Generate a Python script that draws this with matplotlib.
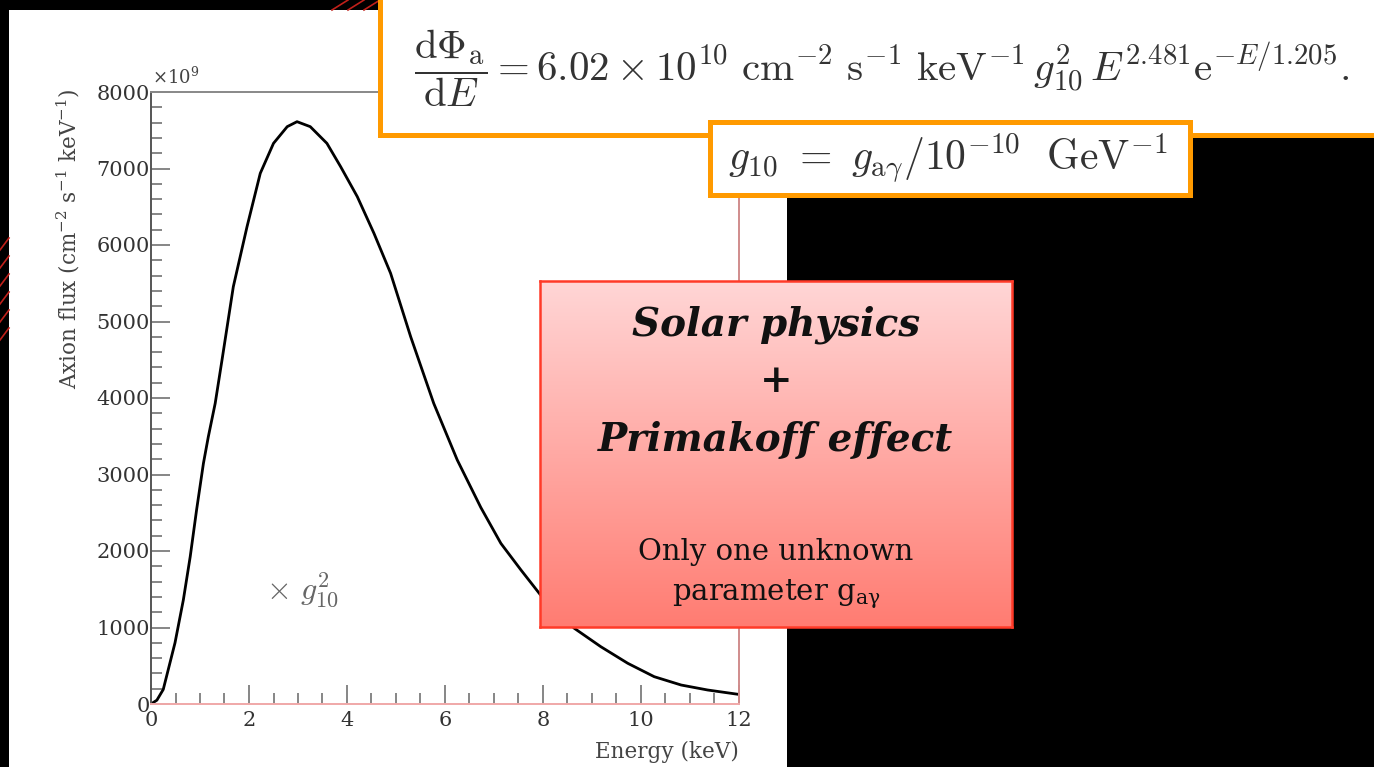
"""Solar axion flux spectrum slide: flux vs energy with formula boxes."""
import numpy as np
import matplotlib
matplotlib.use("Agg")
import matplotlib.pyplot as plt
from matplotlib.patches import Rectangle
from matplotlib.lines import Line2D

# values (x1e9 cm^-2 s^-1 keV^-1)
energy = [0, 0.12, 0.25, 0.49, 0.66, 0.80, 0.93, 1.07, 1.17, 1.31, 1.45, 1.68, 1.96,
          2.23, 2.50, 2.78, 2.98, 3.25, 3.59, 3.87, 4.21, 4.55, 4.89, 5.30, 5.77,
          6.25, 6.73, 7.14, 7.55, 7.95, 8.64, 9.18, 9.73, 10.27, 10.82, 11.36, 12.0]
flux = [0, 50, 190, 800, 1360, 1925, 2536, 3146, 3494, 3930, 4500, 5455, 6240,
        6937, 7329, 7547, 7612, 7547, 7329, 7024, 6632, 6153, 5630, 4800, 3930,
        3190, 2570, 2100, 1752, 1425, 989, 749, 532, 357, 248, 183, 125]

x_major = list(range(0, 13, 2))
y_major = list(range(0, 8001, 1000))

W, H = 1374, 767
ORANGE = "#FF9A00"
SERIF = "DejaVu Serif"


def fx(px):
    return px / W


def fy(py):
    return 1 - py / H


fig = plt.figure(figsize=(W / 100, H / 100), dpi=100, facecolor="black")

# white slide panel behind the plot
fig.patches.append(Rectangle((fx(9), 0), fx(787 - 9), fy(10), transform=fig.transFigure,
                             facecolor="white", edgecolor="none", zorder=-1))
# red decorative stripes on the dark border
for i in range(6):
    fig.add_artist(Line2D([fx(0), fx(9)], [fy(250 + i * 18), fy(238 + i * 18)],
                          color="#c0201a", lw=1.2, zorder=-0.5))
for i in range(3):
    fig.add_artist(Line2D([fx(332 + i * 16), fx(348 + i * 16)], [fy(10), fy(0)],
                          color="#c0201a", lw=1.2, zorder=-0.5))

ax = fig.add_axes([fx(151), fy(704), fx(739 - 151), fy(92) - fy(704)])
ax.set_facecolor("white")
ax.plot(energy, flux, color="black", lw=2.0, solid_joinstyle="round")
ax.set_xlim(0, 12)
ax.set_ylim(0, 8000)
ax.set_xticks(x_major)
ax.set_xticks(np.arange(0, 12.01, 0.5), minor=True)
ax.set_yticks(y_major)
ax.set_yticks(np.arange(0, 8001, 200), minor=True)
ax.tick_params(which="both", direction="in", colors="#666", labelcolor="#333",
               labelsize=15, width=1.1)
ax.tick_params(which="major", length=14)
ax.tick_params(which="minor", length=8)
ax.tick_params(axis="y", pad=1)
ax.tick_params(axis="x", pad=5)
for lab in ax.get_xticklabels() + ax.get_yticklabels():
    lab.set_fontfamily(SERIF)
ax.spines["left"].set_color("#555")
ax.spines["top"].set_color("#888")
ax.spines["right"].set_color("#d08c8c")
ax.spines["bottom"].set_color("#f0a8a8")
for s in ax.spines.values():
    s.set_linewidth(1.4)

ax.text(2.35, 1500, r"$\times\ g_{10}^{2}$", fontsize=23, color="#666",
        math_fontfamily="cm", va="center")

fig.text(fx(68), fy(239), r"Axion flux (cm$^{-2}$ s$^{-1}$ keV$^{-1}$)", rotation=90,
         ha="center", va="center", fontsize=15.5, family=SERIF, color="#444",
         math_fontfamily="dejavuserif")
fig.text(fx(152), fy(77), r"$\times10^{9}$", fontsize=13, color="#444",
         va="center", ha="left", math_fontfamily="dejavuserif")
fig.text(fx(739), fy(752), "Energy (keV)", ha="right", va="center", fontsize=15.5,
         family=SERIF, color="#444")

# formula boxes
fig.patches.append(Rectangle((fx(380), fy(135)), fx(1390 - 380), fy(-5) - fy(135),
                             transform=fig.transFigure, facecolor="white",
                             edgecolor=ORANGE, lw=3.6, zorder=2))
fig.text(fx(414), fy(68),
         r"$\dfrac{\mathrm{d}\Phi_{\mathrm{a}}}{\mathrm{d}E} = 6.02\times10^{10}\ \mathrm{cm}^{-2}"
         r"\ \mathrm{s}^{-1}\ \mathrm{keV}^{-1}\,g_{10}^{2}\,E^{2.481}\mathrm{e}^{-E/1.205}.$",
         fontsize=29.5, color="#333", va="center", ha="left", math_fontfamily="cm", zorder=3)

fig.patches.append(Rectangle((fx(710), fy(195)), fx(1190 - 710), fy(122) - fy(195),
                             transform=fig.transFigure, facecolor="white",
                             edgecolor=ORANGE, lw=3.6, zorder=2))
fig.text(fx(728), fy(158), r"$g_{10}\ =\ g_{\mathrm{a}\gamma}/10^{-10}\ \ \mathrm{GeV}^{-1}$",
         fontsize=30, color="#333", va="center", ha="left", math_fontfamily="cm", zorder=3)

# black area right of the panel
fig.patches.append(Rectangle((fx(787), 0), fx(W - 787), fy(197), transform=fig.transFigure,
                             facecolor="black", edgecolor="none", zorder=-0.8))

# pink gradient box
pax = fig.add_axes([fx(540), fy(627), fx(1012 - 540), fy(281) - fy(627)], zorder=5)
top = np.array([255, 214, 214]) / 255
bot = np.array([255, 124, 114]) / 255
t = np.linspace(0, 1, 256)[:, None]
grad = (top[None, :] * (1 - t) + bot[None, :] * t)[:, None, :]
pax.imshow(grad, aspect="auto", extent=[0, 1, 0, 1], origin="upper")
pax.set_xlim(0, 1)
pax.set_ylim(0, 1)
pax.set_xticks([])
pax.set_yticks([])
for s in pax.spines.values():
    s.set_color("#ff3a28")
    s.set_linewidth(1.8)

box_h = 627 - 281


def by(py):
    return 1 - (py - 281) / box_h


pax.text(0.5, by(325), "Solar physics", ha="center", va="center", fontsize=28,
         family=SERIF, style="italic", weight="bold", color="#111")
pax.text(0.5, by(381), "+", ha="center", va="center", fontsize=28,
         family=SERIF, weight="bold", color="#111")
pax.text(0.5, by(440), "Primakoff effect", ha="center", va="center", fontsize=28,
         family=SERIF, style="italic", weight="bold", color="#111")
pax.text(0.5, by(552), "Only one unknown", ha="center", va="center", fontsize=21,
         family=SERIF, color="#111")
pax.text(0.5, by(594), r"parameter g$_{\mathrm{a\gamma}}$", ha="center", va="center",
         fontsize=21, family=SERIF, color="#111", math_fontfamily="dejavuserif")

fig.savefig("out.png", dpi=100, facecolor="black")
